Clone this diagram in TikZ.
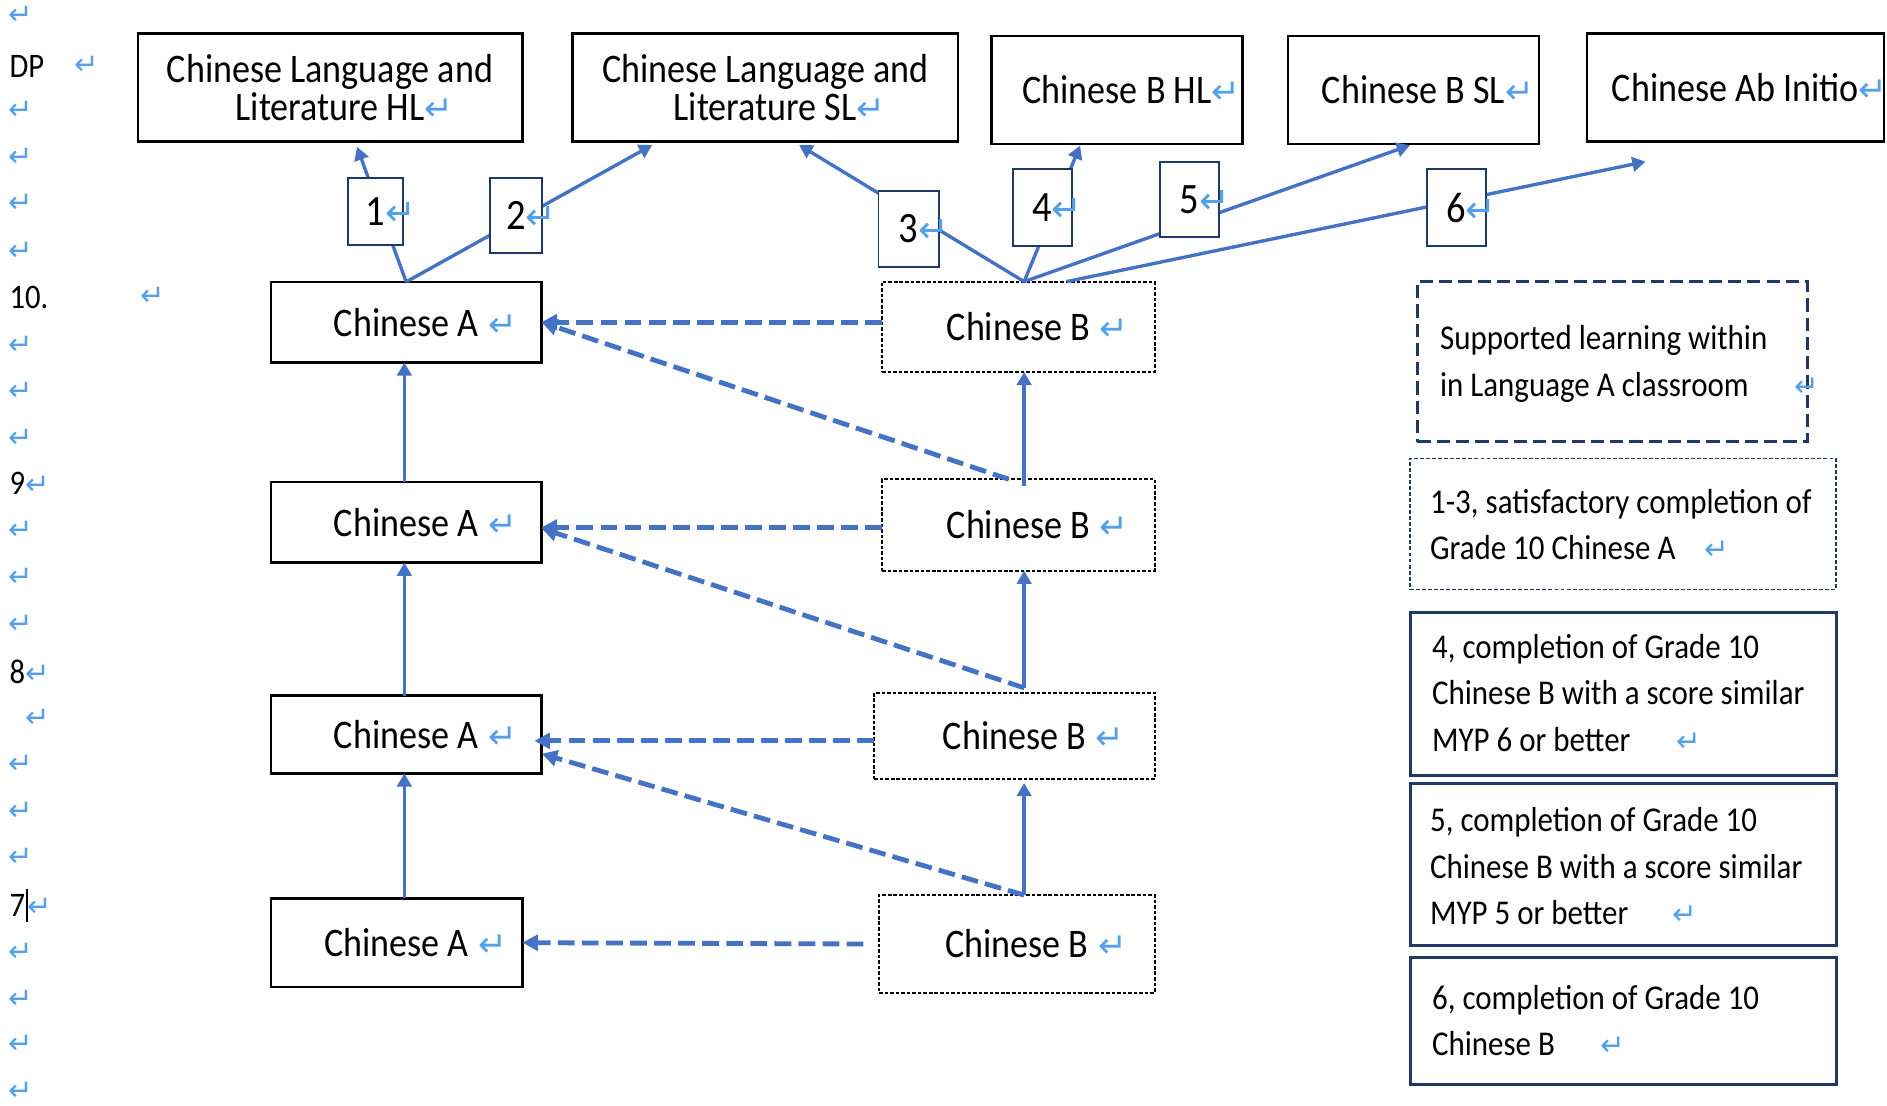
\documentclass[tikz,border=0pt]{standalone}
\usepackage{fontspec}
\setmainfont{Carlito}[FakeStretch=0.89]
\newfontfamily\dvsans{DejaVu Sans}
\usepackage{graphicx}
\usetikzlibrary{arrows.meta,calc}
\definecolor{arrowblue}{RGB}{68,114,196}
\definecolor{navy}{RGB}{31,56,100}
\definecolor{retblue}{RGB}{85,160,235}
\newcommand\ret{{\dvsans\color{retblue}\scalebox{0.85}{↵}}}
\newcommand\boxfont{\fontsize{33.7pt}{31pt}\selectfont}
\newcommand\numfont{\fontsize{36pt}{36pt}\selectfont}
\newcommand\legfont{\fontsize{28.9pt}{38.7pt}\selectfont}
\newcommand\sidefont{\fontsize{28.6pt}{30pt}\selectfont}
\begin{document}
\begin{tikzpicture}[x=1pt,y=-1pt,
  every node/.style={inner sep=0pt,outer sep=0pt},
  topbox/.style={draw=black,line width=2pt,fill=white,align=center,font=\boxfont},
  abox/.style={draw=black,line width=2pt,align=center,font=\boxfont},
  bbox/.style={draw=black,line width=1.5pt,dash pattern=on 3pt off 1.6pt,align=center,font=\boxfont},
  numbox/.style={draw=navy,line width=1.6pt,fill=white,font=\numfont},
  supbox/.style={draw=navy,line width=3pt,dash pattern=on 11pt off 5pt},
  critbox/.style={draw=navy,line width=1.3pt,dash pattern=on 3.3pt off 1.7pt},
  legbox/.style={draw=navy,line width=2.5pt},
  legtext/.style={anchor=base west,align=left,font=\legfont},
  sidetext/.style={anchor=west,font=\sidefont},
  solidarrow/.style={draw=arrowblue,line width=2.8pt,-{Triangle[length=11pt,width=12pt]}},
  dasharrow/.style={draw=arrowblue,line width=4pt,dash pattern=on 14pt off 6pt,-{Triangle[length=13pt,width=13pt]}}
]
\fill[white] (0,0) rectangle (1568,918.2);
\useasboundingbox (0,0) rectangle (1568,918.2);

% left column
\foreach \yy [count=\i] in {13,92,131,169,209,287,325,364,441,480,519,635,674,712,791,830,868,907}
  \node[sidetext] (r\i) at (7,\yy) {\ret};
\node[sidetext] (dp) at (8,55) {DP};
\node[sidetext] (dpr) at (62,54) {\ret};
\node[sidetext] (g10) at (8,247) {10.};
\node[sidetext] (g10r) at (117,246) {\ret};
\node[sidetext] (g9) at (8,402) {9\ret};
\node[sidetext] (g8) at (8,558) {8\ret};
\node[sidetext] (r8b) at (21,597) {\ret};
\node[sidetext] (g7) at (8,752) {7\hspace{2pt}\ret};
\draw[line width=1.6pt] (22.5,739) -- (22.5,766);

% top boxes
\node[topbox,minimum width=319.5pt,minimum height=90pt] (hl) at (274.25,72.7) {Chinese Language and\\Literature HL\rlap{\ret}};
\node[topbox,minimum width=320.3pt,minimum height=90pt] (sl) at (635.85,72.7) {Chinese Language and\\Literature SL\rlap{\ret}};
\node[topbox,minimum width=208.8pt,minimum height=89.8pt] (bhl) at (928.2,74.8) {Chinese B HL\rlap{\ret}};
\node[topbox,minimum width=208.8pt,minimum height=89.8pt] (bsl) at (1174.6,74.8) {Chinese B SL\rlap{\ret}};
\node[topbox,minimum width=247pt,minimum height=90pt] (abi) at (1442,72.7) {Chinese Ab Initio\rlap{\ret}};

% Chinese A boxes
\node[abox,minimum width=225pt,minimum height=67pt] (a10) at (337.5,267.7) {Chinese A\rlap{\hspace{8pt}\ret}};
\node[abox,minimum width=225pt,minimum height=67pt] (a9) at (337.5,434) {Chinese A\rlap{\hspace{8pt}\ret}};
\node[abox,minimum width=225pt,minimum height=64.6pt] (a8) at (337.5,610.3) {Chinese A\rlap{\hspace{8pt}\ret}};
\node[abox,minimum width=209pt,minimum height=73.5pt] (a7) at (329.5,783.3) {Chinese A\rlap{\hspace{8pt}\ret}};

% Chinese B boxes
\node[bbox,minimum width=226.5pt,minimum height=75pt] (b10) at (846.25,271.5) {Chinese B\rlap{\hspace{8pt}\ret}};
\node[bbox,minimum width=226.5pt,minimum height=76pt] (b9) at (846.25,436.25) {Chinese B\rlap{\hspace{8pt}\ret}};
\node[bbox,minimum width=233pt,minimum height=72pt] (b8) at (843,611.6) {Chinese B\rlap{\hspace{8pt}\ret}};
\node[bbox,minimum width=229pt,minimum height=81.3pt] (b7) at (845,784.4) {Chinese B\rlap{\hspace{8pt}\ret}};

% legend boxes
\node[supbox,minimum width=324pt,minimum height=133pt] (sup) at (1339.85,300.5) {};
\node[legtext] (supt) at (1196.6,329.3) {Supported learning within\\in Language A classroom\hspace{38pt}\ret};
\node[critbox,minimum width=354pt,minimum height=108.8pt] (c13) at (1348.7,435.3) {};
\node[legtext] (c13t) at (1188.3,465) {1-3, satisfactory completion of\\Grade 10 Chinese A\hspace{24pt}\ret};
\node[legbox,minimum width=354.3pt,minimum height=135pt] (c4) at (1348.85,576.5) {};
\node[legtext] (c4t) at (1190,624.3) {4, completion of Grade 10\\Chinese B with a score similar\\MYP 6 or better\hspace{38pt}\ret};
\node[legbox,minimum width=354.3pt,minimum height=134.8pt] (c5) at (1348.85,718.4) {};
\node[legtext] (c5t) at (1188.3,768.4) {5, completion of Grade 10\\Chinese B with a score similar\\MYP 5 or better\hspace{37pt}\ret};
\node[legbox,minimum width=354.3pt,minimum height=105.3pt] (c6) at (1348.85,848.15) {};
\node[legtext] (c6t) at (1190,877.2) {6, completion of Grade 10\\Chinese B\hspace{38pt}\ret};

% helper coordinates
\coordinate (ax) at (336,0);
\coordinate (bx) at (851,0);
\coordinate (t1) at ($(hl.south)+(22.4,4.3)$);
\coordinate (t2) at ($(sl.south)+(-93.9,2.8)$);
\coordinate (t3) at ($(sl.south)+(28.2,2.8)$);
\coordinate (t4) at ($(bhl.south)+(-30.7,1.3)$);
\coordinate (t5) at ($(bsl.south)+(-3,1)$);
\coordinate (t6) at ($(abi.south)+(-74.6,16.6)$);
\coordinate (bs) at (b10.north -| bx);
\coordinate (bs6) at ($(b10.north)+(40,0)$);

% vertical progression arrows
\draw[solidarrow] (a9.north -| ax) -- (a10.south -| ax);
\draw[solidarrow] (a8.north -| ax) -- (a9.south -| ax);
\draw[solidarrow] (a7.north -| ax) -- (a8.south -| ax);
\draw[solidarrow] ($(b9.north -| bx)+(0,6)$) -- (b10.south -| bx);
\draw[solidarrow] ($(b8.north -| bx)+(0,-4)$) -- (b9.south -| bx);
\draw[solidarrow] (b7.north -| bx) -- ($(b8.south -| bx)+(0,3)$);

% dashed arrows B -> A
\draw[dasharrow] (b10.west |- a10.east) -- (a10.east);
\draw[dasharrow] ($(b9.north)+(-8,0)$) -- (a10.east);
\draw[dasharrow] ($(b9.west)+(0,2)$) -- ($(b9.west -| a9.east)+(0,2)$);
\draw[dasharrow] ($(b8.north -| bx)+(0,-4)$) -- ($(a9.east)+(0,5)$);
\draw[dasharrow] ($(b8.west)+(0,4)$) -- ($(b8.west -| a8.east)+(-6,4)$);
\draw[dasharrow] (b7.north -| bx) -- ($(a8.east)+(0,16)$);
\draw[dasharrow] ($(b7.west)+(-13,0)$) -- (a7.east);

% DP pathways
\draw[solidarrow] (a10.north) -- (t1);
\draw[solidarrow] (a10.north) -- (t2);
\draw[solidarrow] (bs) -- (t3);
\draw[solidarrow] (bs) -- (t4);
\draw[solidarrow] (bs) -- (t5);
\draw[solidarrow] (bs6) -- (t6);

% number boxes
\node[numbox,minimum width=45.2pt,minimum height=56.3pt] (n1) at (312.1,175.75) {1\rlap{\ret}};
\node[numbox,minimum width=43.7pt,minimum height=62.9pt] (n2) at (428.85,179) {2\rlap{\ret}};
\node[numbox,minimum width=50pt,minimum height=62.9pt] (n3) at (755,190.1) {3\rlap{\ret}};
\node[numbox,minimum width=49.2pt,minimum height=63.5pt] (n4) at (866,172.45) {4\rlap{\ret}};
\node[numbox,minimum width=49.1pt,minimum height=62.9pt] (n5) at (988.45,165.75) {5\rlap{\ret}};
\node[numbox,minimum width=48.8pt,minimum height=63.5pt] (n6) at (1210,172.45) {6\rlap{\ret}};
\end{tikzpicture}
\end{document}
